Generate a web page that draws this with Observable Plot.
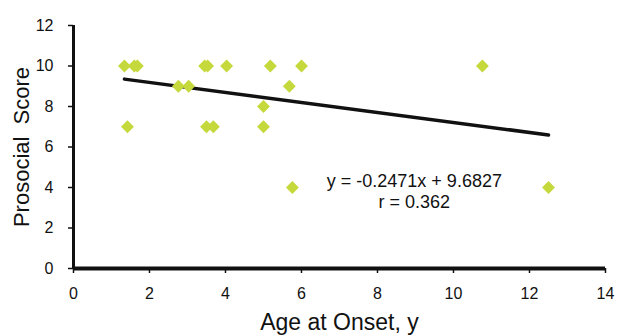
<!DOCTYPE html>
<html>
<head>
<meta charset="utf-8">
<script src="https://cdn.jsdelivr.net/npm/d3@7"></script>
<script src="https://cdn.jsdelivr.net/npm/@observablehq/plot@0.6"></script>
<style>
  html, body { margin: 0; padding: 0; background: #fff; }
  #chart svg { display: block; }
</style>
</head>
<body>
<div id="chart"></div>
<script>
const ages   = [1.34, 1.42, 1.60, 1.68, 2.76, 3.03, 3.45, 3.53, 3.50, 3.68, 4.03, 5.00, 5.00, 5.18, 5.68, 5.76, 6.00, 10.76, 12.50];
const scores = [10,   7,    10,   10,   9,    9,    10,   10,   7,    7,    10,   8,    7,    10,   9,    4,    10,   10,    4];
const slope = -0.2471;
const intercept = 9.6827;
const rValue = 0.362;
const xTicks = [0, 2, 4, 6, 8, 10, 12, 14];
const yTicks = [0, 2, 4, 6, 8, 10, 12];
const xLabel = "Age at Onset, y";
const yLabel = "Prosocial  Score";
const eqLines = [`y = ${slope}x + ${intercept}`, `r = ${rValue}`];
const eqPos = {x: 8.97, y: 3.83};

const points = ages.map((a, i) => ({age: a, score: scores[i]}));
const xMin = d3.min(ages), xMax = d3.max(ages);
const fit = [xMin, xMax].map(x => ({x, y: slope * x + intercept}));

const font = "'Liberation Sans', Arial, sans-serif";

const chart = Plot.plot({
  width: 617,
  height: 335,
  marginLeft: 73,
  marginRight: 12,
  marginTop: 25,
  marginBottom: 67,
  style: {fontFamily: font, fontSize: "16px", background: "#fff", color: "#222"},
  x: {domain: [0, 14]},
  y: {domain: [0, 12]},
  marks: [
    Plot.axisY({ticks: yTicks, tickSize: 5, tickPadding: 15, fontSize: 16, label: null, strokeWidth: 1.5, stroke: "#111", fill: "#111"}),
    Plot.axisX({ticks: xTicks, tickSize: 5, tickPadding: 14, fontSize: 16, label: null, strokeWidth: 1.5, stroke: "#111", fill: "#111"}),
    Plot.ruleX([0], {y1: 0, y2: 12, stroke: "#111", strokeWidth: 3}),
    Plot.ruleY([0], {x1: 0, x2: 14, stroke: "#111", strokeWidth: 4}),
    Plot.line(fit, {x: "x", y: "y", stroke: "#111", strokeWidth: 3.5}),
    Plot.dot(points, {x: "age", y: "score", symbol: "diamond2", r: 5.8, fill: "#c5d93c", stroke: "none"}),
    Plot.text([eqLines.join("\n")], {x: eqPos.x, y: eqPos.y, fontSize: 18, lineHeight: 1.17, fill: "#111", textAnchor: "middle", lineAnchor: "middle"}),
    Plot.text([xLabel], {frameAnchor: "bottom", dy: 61, fontSize: 23, fill: "#111"}),
    Plot.text([yLabel], {frameAnchor: "left", dx: -52, rotate: -90, textAnchor: "middle", fontSize: 22, fill: "#111"})
  ]
});
document.getElementById("chart").appendChild(chart);
</script>
</body>
</html>
